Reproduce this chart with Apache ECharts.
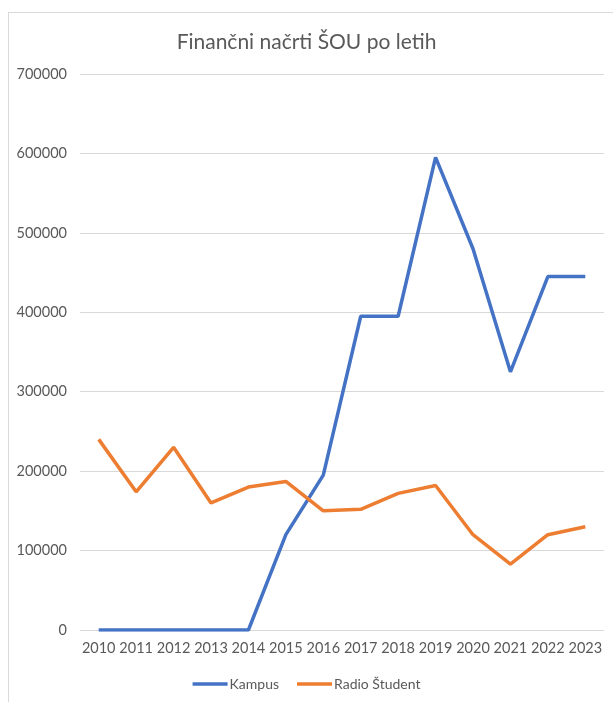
<!DOCTYPE html>
<html>
<head>
<meta charset="utf-8">
<script src="https://cdn.jsdelivr.net/npm/echarts@6/dist/echarts.min.js"></script>
<style>
html,body{margin:0;padding:0;background:#fff;}
#frame{position:absolute;left:8px;top:12px;width:700px;height:800px;border-left:1px solid #d9d9d9;border-top:1px solid #d9d9d9;}
#chart{position:absolute;left:0;top:0;width:613px;height:702px;}
</style>
</head>
<body>
<div id="frame"></div>
<div id="chart"></div>
<script>
const title = "Finančni načrti ŠOU po letih";
const years = ["2010","2011","2012","2013","2014","2015","2016","2017","2018","2019","2020","2021","2022","2023"];
const kampus = [0,0,0,0,0,120000,195000,395000,395000,595000,480000,325000,445000,445000];
const radioStudent = [240000,174000,230000,160000,180000,187000,150000,152000,172000,182000,120000,83000,120000,130000];
const seriesNames = ["Kampus","Radio Študent"];
const colors = ["#4472C4","#ED7D31"];

const chart = echarts.init(document.getElementById('chart'));
const font = "Lato, 'Open Sans', sans-serif";
chart.setOption({
  animation:false,
  backgroundColor:'transparent',
  title:{text:title,left:'center',top:27,textStyle:{fontFamily:font,fontSize:21,fontWeight:'normal',color:'#595959'}},
  legend:{bottom:6,left:'center',icon:'rect',itemWidth:35,itemHeight:3.5,itemGap:18,
    textStyle:{fontFamily:font,fontSize:14,color:'#595959',padding:[0,0,0,-3]},data:seriesNames},
  grid:{left:80,right:9,top:74,bottom:72},
  xAxis:{type:'category',data:years,boundaryGap:true,
    axisLine:{show:false},axisTick:{show:false},
    axisLabel:{fontFamily:font,fontSize:14.5,color:'#595959',margin:11,interval:0}},
  yAxis:{type:'value',min:0,max:700000,interval:100000,
    axisLine:{show:false},axisTick:{show:false},
    splitLine:{lineStyle:{color:'#d9d9d9',width:1}},
    axisLabel:{fontFamily:font,fontSize:14.5,color:'#595959',margin:13,formatter:v=>String(v)}},
  series:[
    {name:seriesNames[0],type:'line',data:kampus,symbol:'none',lineStyle:{width:3.5,color:colors[0]},itemStyle:{color:colors[0]}},
    {name:seriesNames[1],type:'line',data:radioStudent,symbol:'none',lineStyle:{width:3.5,color:colors[1]},itemStyle:{color:colors[1]}}
  ]
});
</script>
</body>
</html>
